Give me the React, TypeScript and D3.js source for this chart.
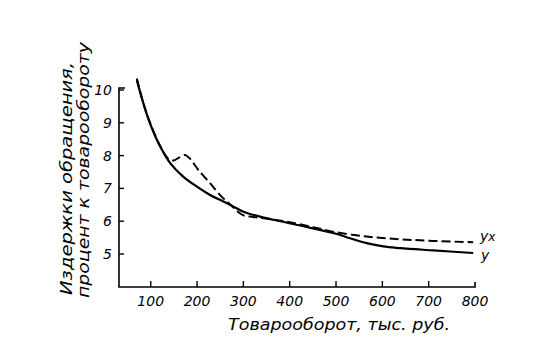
import React from "react";
import * as d3 from "d3";

const xTicks = [100, 200, 300, 400, 500, 600, 700, 800];
const yTicks = [5, 6, 7, 8, 9, 10];

// solid curve "y"
const solidX = [70, 84, 98, 120, 142, 170, 199, 228, 257, 278, 300, 336, 372, 425, 494, 530, 566, 602, 638, 710, 796];
const solidY = [10.3, 9.6, 9.0, 8.29, 7.77, 7.36, 7.06, 6.8, 6.6, 6.45, 6.29, 6.14, 6.02, 5.86, 5.64, 5.48, 5.33, 5.23, 5.18, 5.11, 5.03];

// dashed curve "yx"
const dashedX = [70, 85, 100, 120, 138, 149, 160, 174, 185, 203, 228, 253, 271, 289, 300, 321, 350, 393, 444, 493, 566, 638, 710, 796];
const dashedY = [10.35, 9.55, 8.95, 8.3, 7.9, 7.85, 7.93, 8.02, 7.9, 7.56, 7.16, 6.75, 6.52, 6.28, 6.18, 6.13, 6.08, 5.99, 5.84, 5.68, 5.53, 5.45, 5.4, 5.36];

const xTitle = "Товарооборот, тыс. руб.";
const yTitle1 = "Издержки обращения,";
const yTitle2 = "процент к товарообороту";

export default function App() {
  const W = 553, H = 361;
  const x = d3.scaleLinear().domain([0, 800]).range([104.4, 475]);
  const y = d3.scaleLinear().domain([4, 10]).range([286.8, 90]);
  const axisX0 = 119;
  const axisY0 = 287;
  const axisTop = 88;
  const font = "'DejaVu Sans', sans-serif";

  const line = d3
    .line<[number, number]>()
    .x((d) => x(d[0]))
    .y((d) => y(d[1]))
    .curve(d3.curveCatmullRom.alpha(0.5));

  const solidPath = line(solidX.map((v, i) => [v, solidY[i]]) as [number, number][]) || "";
  const dashedPath = line(dashedX.map((v, i) => [v, dashedY[i]]) as [number, number][]) || "";

  return (
    <svg
      width={W}
      height={H}
      style={{ position: "absolute", left: 0, top: 0, background: "#fff" }}
    >
      <rect x={0} y={0} width={W} height={H} fill="#fff" />
      {/* axes */}
      <path
        d={`M${axisX0 + 6},${axisTop} L${axisX0},${axisTop} L${axisX0},${axisY0} L${x(800)},${axisY0} L${x(800)},${axisY0 - 5}`}
        fill="none"
        stroke="#000"
        strokeWidth={1.6}
      />
      {yTicks.map((t) => (
        <g key={"y" + t}>
          <line x1={axisX0} x2={axisX0 + 5} y1={y(t)} y2={y(t)} stroke="#000" strokeWidth={1.4} />
          <text
            x={112}
            y={y(t) + 5}
            textAnchor="end"
            fontFamily={font}
            fontStyle="italic"
            fontSize={14}
          >
            {t}
          </text>
        </g>
      ))}
      {xTicks.map((t) => (
        <g key={"x" + t}>
          {t < 800 && (
            <line x1={x(t)} x2={x(t)} y1={axisY0} y2={axisY0 - 6} stroke="#000" strokeWidth={1.4} />
          )}
          <text
            x={x(t)}
            y={306}
            textAnchor="middle"
            fontFamily={font}
            fontStyle="italic"
            fontSize={14}
          >
            {t}
          </text>
        </g>
      ))}
      {/* curves */}
      <path d={solidPath} fill="none" stroke="#000" strokeWidth={2.2} />
      <path d={dashedPath} fill="none" stroke="#000" strokeWidth={2} strokeDasharray="9,4" />
      {/* curve labels */}
      <text x={480} y={241} fontFamily={font} fontStyle="italic" fontSize={14}>
        y<tspan fontSize={12}>x</tspan>
      </text>
      <text x={481} y={260} fontFamily={font} fontStyle="italic" fontSize={14}>
        y
      </text>
      {/* titles */}
      <text
        x={228}
        y={330}
        fontFamily={font}
        fontStyle="italic"
        fontSize={16}
        textLength={222}
        lengthAdjust="spacingAndGlyphs"
      >
        {xTitle}
      </text>
      <text
        transform="translate(72,295) rotate(-90)"
        fontFamily={font}
        fontStyle="italic"
        fontSize={16}
        textLength={233}
        lengthAdjust="spacingAndGlyphs"
      >
        {yTitle1}
      </text>
      <text
        transform="translate(89,298) rotate(-90)"
        fontFamily={font}
        fontStyle="italic"
        fontSize={16}
        textLength={256}
        lengthAdjust="spacingAndGlyphs"
      >
        {yTitle2}
      </text>
    </svg>
  );
}
